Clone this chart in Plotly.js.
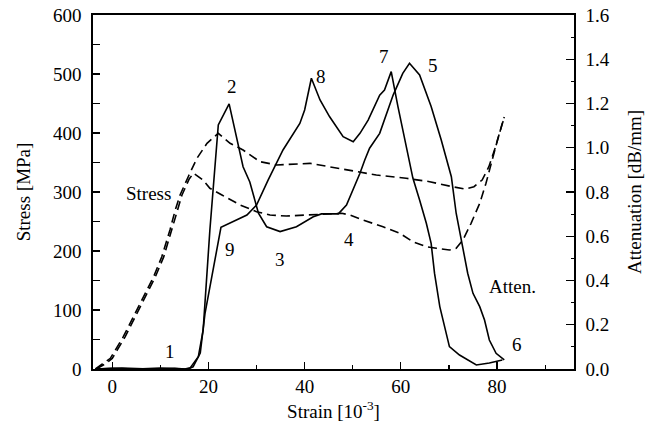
<!DOCTYPE html>
<html>
<head>
<meta charset="utf-8">
<script src="https://cdn.plot.ly/plotly-3.0.1.min.js"></script>
<style>
  html, body { margin: 0; padding: 0; background: #fff; }
  #chart { width: 656px; height: 433px; }
</style>
</head>
<body>
<div id="chart"></div>
<script>
// ---- Data ----
// Attenuation curve A (labels 1-2-3-4-5-6), strain [1e-3], dB/mm
const attA_x = [-3.5, 0, 5, 10, 15.1, 16.2, 17.9, 18.9, 20.3, 22.05, 24.3, 27.2, 28.6, 29.5, 30.4, 32.1, 34.9, 38.3, 41.8, 43.5, 47.0, 48.7, 50.1, 51.5, 52.5, 53.5, 55.6, 58.4, 60.4, 61.8, 63.9, 66.3, 68.4, 70.5, 71.5, 72.6, 73.9, 75.0, 76.4, 77.4, 78.4, 79.8, 81.5];
const attA_y = [0.0, 0.003, 0.0, 0.004, 0.0, 0.005, 0.056, 0.176, 0.628, 1.103, 1.198, 0.914, 0.845, 0.773, 0.704, 0.643, 0.621, 0.643, 0.688, 0.701, 0.701, 0.741, 0.809, 0.885, 0.945, 0.998, 1.065, 1.238, 1.336, 1.382, 1.329, 1.186, 1.035, 0.869, 0.704, 0.583, 0.433, 0.342, 0.282, 0.221, 0.131, 0.071, 0.041];
// Attenuation curve B (labels 9-8-7)
const attB_x = [-3.5, 2, 8, 13, 15.2, 15.8, 16.8, 18.3, 19.3, 22.6, 28.0, 30.0, 32.4, 35.5, 39.0, 40.0, 41.4, 43.2, 45.2, 48.0, 50.1, 51.5, 53.2, 55.6, 56.6, 58.0, 59.4, 61.1, 62.5, 63.9, 65.3, 66.3, 67.0, 68.1, 69.4, 70.1, 72.2, 75.7, 78.4, 81.1];
const attB_y = [0.0, 0.004, 0.0, 0.003, 0.0, 0.0, 0.010, 0.072, 0.253, 0.640, 0.696, 0.741, 0.854, 0.990, 1.110, 1.171, 1.314, 1.216, 1.140, 1.050, 1.027, 1.065, 1.125, 1.238, 1.261, 1.344, 1.186, 1.005, 0.863, 0.764, 0.659, 0.568, 0.433, 0.282, 0.161, 0.101, 0.063, 0.018, 0.027, 0.041];
// Stress curve 1 (upper), MPa
const stressA_x = [-3.5, -1.8, -0.4, 2.3, 4.4, 6.5, 8.6, 10.3, 12.0, 13.1, 14.1, 15.8, 17.6, 19.7, 22.05, 24.5, 27.2, 30.7, 34.2, 41.1, 45.2, 49.4, 54.9, 61.1, 66.0, 70.7, 73.4, 75.2, 76.9, 78.3, 79.7, 81.1, 81.7];
const stressA_y = [0, 9.6, 18.1, 54.7, 88.6, 122.5, 156.4, 190.3, 235.6, 269.5, 294.9, 325.9, 357.1, 382.5, 399.5, 382.5, 371.2, 351.4, 345.8, 348.6, 342.9, 336.4, 328.8, 323.2, 317.5, 309.0, 305.1, 309.0, 320.3, 342.9, 376.8, 416.4, 427.6];
// Stress curve 2 (lower), MPa
const stressB_x = [-3.3, -1.4, 0.0, 2.7, 4.8, 6.9, 9.0, 10.7, 12.4, 13.5, 14.5, 16.0, 16.9, 18.9, 20.3, 22.8, 26.6, 30.0, 32.8, 36.2, 40.4, 44.5, 47.7, 49.4, 52.1, 56.3, 59.8, 62.5, 65.3, 67.4, 70.1, 71.5, 72.9, 74.6, 76.4, 77.7, 78.8, 80.1, 81.5];
const stressB_y = [0, 9.0, 18.0, 55.0, 89.0, 123.0, 157.0, 190.0, 236.0, 270.0, 295.0, 322.0, 332.0, 320.3, 306.3, 294.9, 278.0, 266.6, 261.0, 259.3, 261.0, 262.7, 263.9, 261.0, 252.5, 241.2, 230.0, 215.8, 207.3, 204.6, 201.7, 204.6, 218.6, 246.9, 280.8, 314.7, 349.2, 388.1, 427.1];

// Point labels (strain, stress-axis position)
const label_text = ["1", "2", "3", "4", "5", "6", "7", "8", "9", "Stress", "Atten."];
const label_x = [12.0, 24.8, 34.9, 49.2, 66.7, 84.1, 56.6, 43.5, 24.5, 7.5, 83.3];
const label_y = [29, 478, 186, 219, 515, 41, 529, 495, 202, 298, 140];

// Axis ticks
const x_ticks = [0, 20, 40, 60, 80];
const y_ticks = [0, 100, 200, 300, 400, 500, 600];
const y2_ticks = [0, 0.2, 0.4, 0.6, 0.8, 1.0, 1.2, 1.4, 1.6];
const y2_ticklabels = ["0.0", "0.2", "0.4", "0.6", "0.8", "1.0", "1.2", "1.4", "1.6"];

const FONT = "Liberation Serif, Times New Roman, serif";
const FS = 19;

const dashLine = {color: "#000", width: 1.6, dash: "9px,5px"};
const solidLine = {color: "#000", width: 1.6};

const traces = [
  {x: stressA_x, y: stressA_y, type: "scatter", mode: "lines", line: dashLine, yaxis: "y", hoverinfo: "skip"},
  {x: stressB_x, y: stressB_y, type: "scatter", mode: "lines", line: dashLine, yaxis: "y", hoverinfo: "skip"},
  {x: attA_x, y: attA_y, type: "scatter", mode: "lines", line: solidLine, yaxis: "y2", hoverinfo: "skip"},
  {x: attB_x, y: attB_y, type: "scatter", mode: "lines", line: solidLine, yaxis: "y2", hoverinfo: "skip"}
];

const annotations = label_text.map((t, i) => ({
  x: label_x[i], y: label_y[i], xref: "x", yref: "y", text: t, showarrow: false,
  font: {family: FONT, size: FS, color: "#000"}, xanchor: "center", yanchor: "middle"
}));

const layout = {
  width: 656, height: 433,
  margin: {l: 93, r: 82, t: 15, b: 64},
  paper_bgcolor: "#fff", plot_bgcolor: "#fff",
  showlegend: false,
  font: {family: FONT, size: FS, color: "#000"},
  xaxis: {
    range: [-4, 96], tickvals: x_ticks, ticktext: x_ticks.map(String),
    ticks: "inside", ticklen: 7, tickwidth: 1.2, tickcolor: "#000",
    minor: {dtick: 10, tick0: 0, ticks: "inside", ticklen: 4, tickwidth: 1.2, tickcolor: "#000"},
    showline: true, linecolor: "#000", linewidth: 1.6, mirror: true,
    showgrid: false, zeroline: false,
    tickfont: {family: FONT, size: FS, color: "#000"},
    title: {text: "Strain [10<sup>-3</sup>]", font: {family: FONT, size: FS, color: "#000"}, standoff: 8}
  },
  yaxis: {
    range: [0, 600], tickvals: y_ticks, ticktext: y_ticks.map(String),
    ticks: "inside", ticklen: 7, tickwidth: 1.2, tickcolor: "#000",
    minor: {dtick: 50, tick0: 0, ticks: "inside", ticklen: 7, tickwidth: 1.2, tickcolor: "#000"},
    showline: true, linecolor: "#000", linewidth: 1.6,
    showgrid: false, zeroline: false, ticklabelstandoff: 6,
    tickfont: {family: FONT, size: FS, color: "#000"},
    title: {text: "Stress [MPa]", font: {family: FONT, size: FS, color: "#000"}, standoff: 17}
  },
  yaxis2: {
    range: [0, 1.6], overlaying: "y", side: "right",
    tickvals: y2_ticks, ticktext: y2_ticklabels,
    ticks: "inside", ticklen: 8, tickwidth: 1.2, tickcolor: "#000",
    minor: {dtick: 0.1, tick0: 0, ticks: "inside", ticklen: 3.5, tickwidth: 1.2, tickcolor: "#000"},
    showline: true, linecolor: "#000", linewidth: 1.6,
    showgrid: false, zeroline: false, ticklabelstandoff: 6,
    tickfont: {family: FONT, size: FS, color: "#000"},
    title: {text: "Attenuation [dB/mm]", font: {family: FONT, size: FS, color: "#000"}, standoff: 19}
  },
  annotations: annotations
};

Plotly.newPlot("chart", traces, layout, {staticPlot: true, displayModeBar: false});
</script>
</body>
</html>
